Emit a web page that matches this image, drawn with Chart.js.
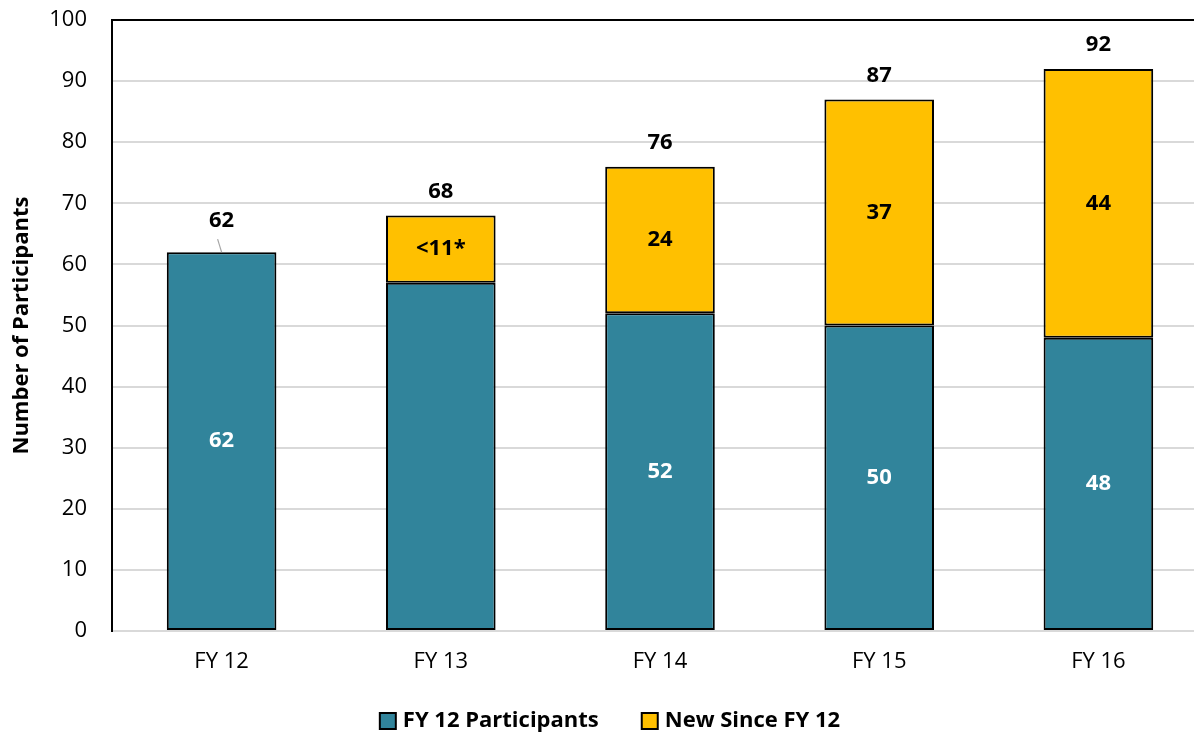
<!DOCTYPE html>
<html>
<head>
<meta charset="utf-8">
<script src="https://cdn.jsdelivr.net/npm/chart.js@4"></script>
<style>
html,body{margin:0;padding:0;background:#fff;overflow:hidden;}
#wrap{width:1208px;height:734px;position:relative;}
</style>
</head>
<body>
<div id="wrap"><canvas id="c"></canvas></div>
<script>
const categories = ["FY 12", "FY 13", "FY 14", "FY 15", "FY 16"];
const fy12Participants = [62, 57, 52, 50, 48];
const fy12Labels = ["62", "", "52", "50", "48"];
const newSinceFY12 = [0, 11, 24, 37, 44];
const newSinceLabels = ["", "<11*", "24", "37", "44"];
const totals = [62, 68, 76, 87, 92];
const yTicks = [0, 10, 20, 30, 40, 50, 60, 70, 80, 90, 100];

const FONT = "'Open Sans', 'Noto Sans', sans-serif";

const labelPlugin = {
  id: 'labels',
  afterDatasetsDraw(chart) {
    const ctx = chart.ctx;
    const y = chart.scales.y;
    const m0 = chart.getDatasetMeta(0);
    const m1 = chart.getDatasetMeta(1);
    ctx.save();
    ctx.textAlign = 'center';
    ctx.textBaseline = 'middle';
    ctx.font = 'bold 22px ' + FONT;
    categories.forEach((c, i) => {
      const b0 = m0.data[i];
      const b1 = m1.data[i];
      if (fy12Labels[i]) {
        ctx.fillStyle = '#ffffff';
        ctx.fillText(fy12Labels[i], b0.x, (b0.y + b0.base) / 2);
      }
      if (newSinceFY12[i] > 0) {
        ctx.fillStyle = '#000000';
        ctx.fillText(newSinceLabels[i], b1.x, (b1.y + b1.base) / 2);
      }
      const topY = y.getPixelForValue(totals[i]);
      ctx.fillStyle = '#000000';
      if (newSinceFY12[i] > 0) {
        ctx.fillText(String(totals[i]), b0.x, topY - 24);
      } else {
        ctx.fillText(String(totals[i]), b0.x, topY - 31);
        ctx.strokeStyle = '#a6a6a6';
        ctx.lineWidth = 1.2;
        ctx.beginPath();
        ctx.moveTo(b0.x - 4, topY - 13);
        ctx.lineTo(b0.x, topY);
        ctx.stroke();
      }
    });
    // top border of plot area
    ctx.strokeStyle = '#000';
    ctx.lineWidth = 2;
    ctx.beginPath();
    ctx.moveTo(chart.chartArea.left - 1, y.getPixelForValue(100));
    ctx.lineTo(chart.chartArea.right + 5, y.getPixelForValue(100));
    ctx.stroke();

    // legend
    ctx.font = 'bold 22px ' + FONT;
    ctx.textAlign = 'left';
    const box = 16, gap = 7, spacing = 43, cy = 721;
    const items = chart.data.datasets.map(d => ({ text: d.label, color: d.backgroundColor, w: ctx.measureText(d.label).width }));
    let total = 0;
    items.forEach((it, k) => { total += box + gap + it.w + (k < items.length - 1 ? spacing : 0); });
    let x = 610 - total / 2;
    items.forEach(it => {
      ctx.fillStyle = it.color;
      ctx.fillRect(x, cy - box / 2, box, box);
      ctx.strokeStyle = '#000';
      ctx.lineWidth = 2;
      ctx.strokeRect(x, cy - box / 2, box, box);
      ctx.fillStyle = '#000';
      ctx.fillText(it.text, x + box + gap, cy);
      x += box + gap + it.w + spacing;
    });
    ctx.restore();
  }
};

new Chart(document.getElementById('c'), {
  type: 'bar',
  data: {
    labels: categories,
    datasets: [
      {
        label: 'FY 12 Participants',
        data: fy12Participants,
        backgroundColor: '#31849b',
        borderColor: '#000000',
        borderWidth: 2,
        borderSkipped: false,
        categoryPercentage: 0.5,
        barPercentage: 1.0
      },
      {
        label: 'New Since FY 12',
        data: newSinceFY12,
        backgroundColor: '#ffc000',
        borderColor: '#000000',
        borderWidth: 2,
        borderSkipped: false,
        categoryPercentage: 0.5,
        barPercentage: 1.0
      }
    ]
  },
  options: {
    responsive: true,
    maintainAspectRatio: false,
    animation: false,
    layout: { padding: { left: 0, right: 0, top: 20, bottom: 63 } },
    plugins: {
      tooltip: { enabled: false },
      legend: { display: false }
    },
    scales: {
      x: {
        stacked: true,
        grid: { display: false, drawTicks: false },
        border: { color: '#d9d9d9', width: 2 },
        ticks: { color: '#000', font: { family: FONT, size: 22 }, padding: 18 },
        afterFit(s) { s.height = 40; }
      },
      y: {
        stacked: true,
        min: 0,
        max: 100,
        afterBuildTicks(s) { s.ticks = yTicks.map(v => ({ value: v })); },
        grid: { color: '#d9d9d9', lineWidth: 2, drawTicks: false },
        border: { color: '#000', width: 2 },
        ticks: { color: '#000', font: { family: FONT, size: 22 }, padding: 25 },
        title: {
          display: true,
          text: 'Number of Participants',
          color: '#000',
          font: { family: FONT, size: 22, weight: 'bold' },
          padding: { top: 9, bottom: 4 }
        },
        afterFit(s) { s.width = 112; s.paddingTop = 0; s.paddingBottom = 0; }
      }
    }
  },
  plugins: [labelPlugin]
});
</script>
</body>
</html>
